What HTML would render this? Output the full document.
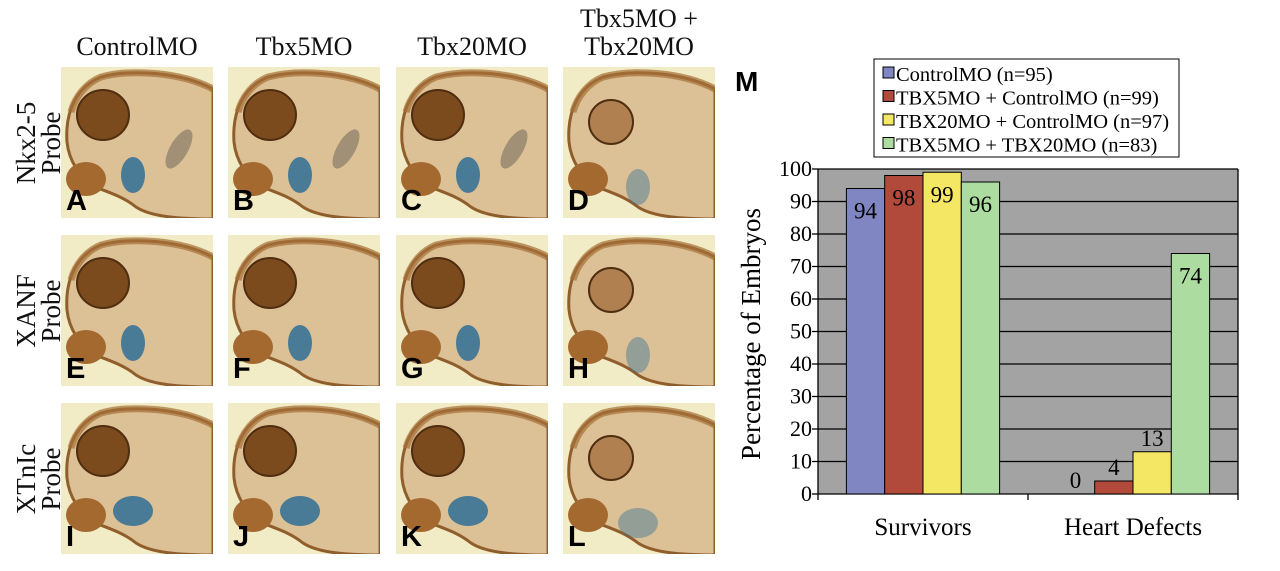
<!DOCTYPE html>
<html><head><meta charset="utf-8"><style>
body{margin:0;width:1280px;height:571px;background:#fff;position:relative;overflow:hidden;font-family:"Liberation Serif",serif}
.abs{position:absolute}
.hdr{position:absolute;font-size:26px;text-align:center;width:190px;line-height:28px;color:#111}
.rowlab{position:absolute;font-size:27px;line-height:25px;text-align:center;transform:rotate(-90deg);transform-origin:center;width:130px;color:#111}
.panel{position:absolute;width:152px;height:151px;background:#f2ecc6;overflow:hidden}
.letter{position:absolute;left:5px;bottom:0px;font:bold 29px "Liberation Sans",sans-serif;color:#000}
</style></head><body>
<div class="hdr" style="left:42px;top:33px">ControlMO</div>
<div class="hdr" style="left:209px;top:33px">Tbx5MO</div>
<div class="hdr" style="left:377px;top:33px">Tbx20MO</div>
<div class="hdr" style="left:544px;top:5px">Tbx5MO +<br>Tbx20MO</div>
<div class="rowlab" style="left:-26px;top:118px">Nkx2-5<br>Probe</div>
<div class="rowlab" style="left:-26px;top:286px">XANF<br>Probe</div>
<div class="rowlab" style="left:-26px;top:454px">XTnIc<br>Probe</div>
<div id="panels"></div>
<div class="abs" style="left:735px;top:66px;font:bold 28px 'Liberation Sans',sans-serif">M</div>
<svg class="abs" style="left:0;top:0" width="1280" height="571" id="chart"></svg>
<script>
const letters=["A","B","C","D","E","F","G","H","I","J","K","L"];
const colX=[61,228,396,563], rowY=[67,235,403];
const ps=document.getElementById('panels');
letters.forEach((L,i)=>{
  const c=i%4,r=Math.floor(i/4);
  const d=document.createElement('div');
  d.className='panel';
  
  
  d.style.left=colX[c]+'px';d.style.top=rowY[r]+'px';
  const blue=c===3?0.5:1;
  d.innerHTML=`<svg width="152" height="151">
  <path d="M152,22 C120,5 70,2 40,10 C15,20 4,45 6,75 C8,95 20,110 30,118 C45,125 60,128 75,140 C90,150 120,152 152,152 Z" fill="#dcc196" stroke="#8f5e2c" stroke-width="3"/>
  <path d="M152,22 C120,5 70,2 40,10 C25,16 14,30 10,45" fill="none" stroke="#a56f38" stroke-width="7" opacity=".7"/>
  <ellipse cx="${c===3?48:42}" cy="${c===3?55:48}" rx="${c===3?22:26}" ry="${c===3?22:25}" fill="${c===3?'#b08050':'#7b4a1d'}" stroke="#4e2d10" stroke-width="2"/>
  <ellipse cx="25" cy="112" rx="20" ry="17" fill="#a4692f"/>
  <ellipse cx="${c===3?75:72}" cy="${c===3?120:108}" rx="${r===2?20:12}" ry="${r===2?15:18}" fill="#2f6f97" opacity="${0.85*blue}"/>
  ${r===0&&c<3?'<ellipse cx="118" cy="82" rx="9" ry="22" transform="rotate(30 118 82)" fill="#7a7060" opacity=".6"/>':''}
  </svg><div class="letter">${L}</div>`;
  ps.appendChild(d);
});
</script>
<script>
const categories=["Survivors","Heart Defects"];
const seriesNames=["ControlMO (n=95)","TBX5MO + ControlMO (n=99)","TBX20MO + ControlMO (n=97)","TBX5MO + TBX20MO (n=83)"];
const controlVals=[94,0];
const tbx5Vals=[98,4];
const tbx20Vals=[99,13];
const doubleVals=[96,74];
const yTicks=[0,10,20,30,40,50,60,70,80,90,100];
const colors=["#7f86c2","#b24a3b","#f4e764","#addca0"];
const series=[controlVals,tbx5Vals,tbx20Vals,doubleVals];
const svg=document.getElementById('chart');const NS="http://www.w3.org/2000/svg";
const L=818,R=1238,T=169,B=494;
const y=v=>B-(v/100)*(B-T);
const catW=(R-L)/categories.length, barW=38.3;
const x=(ci,si)=>L+catW*ci+catW/2-2*barW+si*barW;
function mk(tag,attrs,name,text){const e=document.createElementNS(NS,tag);for(const k in attrs)e.setAttribute(k,attrs[k]);


if(text!==undefined)e.textContent=text;svg.appendChild(e);return e;}
mk('rect',{x:L,y:T,width:R-L,height:B-T,fill:'#a3a3a3'},'plot-area');
yTicks.forEach(t=>{
  if(t>0)mk('line',{x1:L,x2:R,y1:y(t),y2:y(t),stroke:'#000','stroke-width':1.3},'gridline');
  mk('line',{x1:L-6,x2:L,y1:y(t),y2:y(t),stroke:'#000','stroke-width':1.3},'y-tick');
  mk('text',{x:L-6,y:y(t)+7,'text-anchor':'end','font-size':22,'font-family':'Liberation Serif'},'y-tick-label',t);
});
mk('line',{x1:L,x2:L,y1:T,y2:B+6,stroke:'#000','stroke-width':1.3},'y-axis');
mk('line',{x1:R,x2:R,y1:T,y2:B+6,stroke:'#000','stroke-width':1.3},'plot-right-border');
mk('line',{x1:L,x2:R,y1:T,y2:T,stroke:'#000','stroke-width':1},'plot-top-border');
mk('line',{x1:L,x2:R,y1:B,y2:B,stroke:'#000','stroke-width':1.3},'x-axis');
mk('line',{x1:L+catW,x2:L+catW,y1:B,y2:B+6,stroke:'#000','stroke-width':1.3},'x-tick');
categories.forEach((c,ci)=>{
  mk('text',{x:L+catW*ci+catW/2,y:535,'text-anchor':'middle','font-size':25,'font-family':'Liberation Serif'},'x-label',c);
  series.forEach((s,si)=>{
    const v=s[ci];
    if(v>0)mk('rect',{x:x(ci,si),y:y(v),width:barW,height:B-y(v),fill:colors[si],stroke:'#000','stroke-width':1},'bar-'+ci+'-'+si);
    const inside=v>50;
    mk('text',{x:x(ci,si)+barW/2,y:inside?y(v)+30:y(v)-6,'text-anchor':'middle','font-size':23,'font-family':'Liberation Serif'},'value-label',v);
  });
});
mk('text',{transform:'translate(760,334) rotate(-90)','text-anchor':'middle','font-size':27,'font-family':'Liberation Serif'},'y-axis-title','Percentage of Embryos');
mk('rect',{x:874,y:59,width:305,height:98,fill:'#fff',stroke:'#000','stroke-width':1},'legend-box');
seriesNames.forEach((n,i)=>{
  const yy=66+i*23.5;
  mk('rect',{x:883,y:yy+1,width:11,height:11,fill:colors[i],stroke:'#000','stroke-width':1},'legend-swatch');
  mk('text',{x:896,y:yy+15,'font-size':20.5,'font-family':'Liberation Serif'},'legend-entry',n);
});
</script>
</body></html>
